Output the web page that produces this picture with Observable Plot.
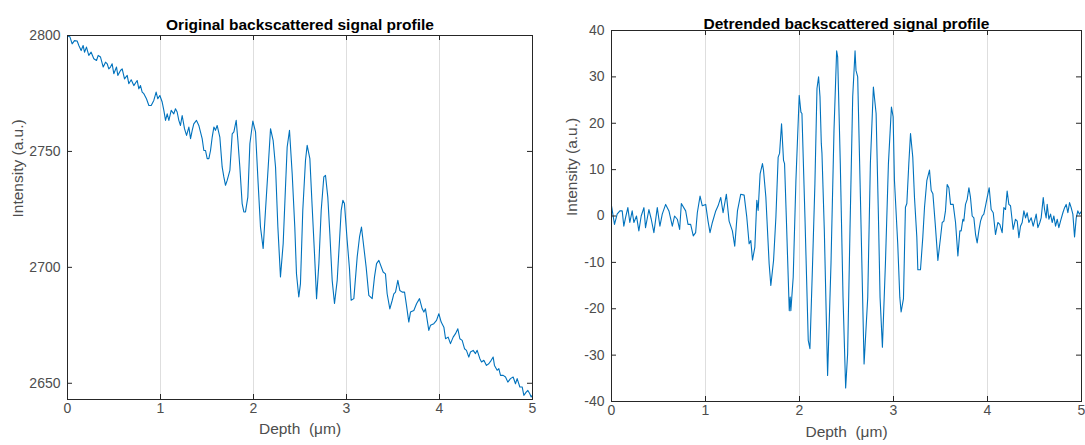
<!DOCTYPE html>
<html><head><meta charset="utf-8">
<script src="https://cdn.jsdelivr.net/npm/d3@7"></script>
<script src="https://cdn.jsdelivr.net/npm/@observablehq/plot@0.6"></script>
<style>
body{margin:0;background:#fff;}
#wrap{position:relative;width:1085px;height:445px;overflow:hidden;background:#fff;}
#left,#right{position:absolute;top:0;}
#left{left:0;} #right{left:540px;}
</style></head><body><div id="wrap"><div id="left"></div><div id="right"></div></div>
<script>
// ---- Data: original backscattered signal profile ----
const depthOrig = [
 0, 0.025, 0.050, 0.075, 0.104, 0.122, 0.147, 0.168, 0.183, 0.204,
 0.229, 0.254, 0.283, 0.312, 0.330, 0.355, 0.384, 0.409, 0.427, 0.444,
 0.462, 0.480, 0.498, 0.527, 0.541, 0.570, 0.588, 0.613, 0.642, 0.659,
 0.685, 0.713, 0.749, 0.767, 0.785, 0.803, 0.821, 0.849, 0.875, 0.900,
 0.928, 0.953, 0.971, 0.993, 1.018, 1.036, 1.054, 1.072, 1.090, 1.115,
 1.143, 1.161, 1.179, 1.197, 1.215, 1.233, 1.258, 1.280, 1.305, 1.323,
 1.341, 1.358, 1.387, 1.412, 1.448, 1.466, 1.484, 1.502, 1.520, 1.538,
 1.556, 1.574, 1.591, 1.609, 1.638, 1.663, 1.681, 1.699, 1.717, 1.746,
 1.771, 1.789, 1.814, 1.832, 1.853, 1.878, 1.896, 1.914, 1.939, 1.961,
 1.993, 2.022, 2.050, 2.075, 2.104, 2.129, 2.158, 2.183, 2.211, 2.237,
 2.262, 2.290, 2.319, 2.344, 2.362, 2.387, 2.416, 2.444, 2.462, 2.487,
 2.505, 2.530, 2.559, 2.577, 2.606, 2.631, 2.656, 2.678, 2.703, 2.728,
 2.756, 2.774, 2.799, 2.821, 2.846, 2.871, 2.900, 2.925, 2.943, 2.961,
 2.978, 3.007, 3.032, 3.050, 3.079, 3.115, 3.140, 3.161, 3.186, 3.211,
 3.240, 3.276, 3.301, 3.323, 3.348, 3.394, 3.419, 3.437, 3.466, 3.491,
 3.509, 3.527, 3.552, 3.574, 3.599, 3.624, 3.645, 3.670, 3.688, 3.724,
 3.753, 3.785, 3.814, 3.832, 3.849, 3.885, 3.903, 3.939, 3.968, 3.993,
 4.018, 4.047, 4.065, 4.093, 4.118, 4.147, 4.172, 4.197, 4.219, 4.244,
 4.269, 4.290, 4.315, 4.333, 4.362, 4.387, 4.405, 4.434, 4.452, 4.477,
 4.505, 4.530, 4.556, 4.577, 4.591, 4.620, 4.638, 4.656, 4.685, 4.710,
 4.735, 4.763, 4.792, 4.817, 4.835, 4.864, 4.889, 4.907, 4.932, 4.950,
 4.971, 4.986, 5.000
];
const intensityOrig = [
 2799.8, 2799.5, 2796.4, 2797.8, 2797.6, 2795.7, 2793.5, 2795.7, 2792.8, 2795.0,
 2791.4, 2792.8, 2790.0, 2789.2, 2791.4, 2790.7, 2786.4, 2788.5, 2787.8, 2785.6,
 2786.4, 2787.8, 2783.5, 2786.4, 2782.8, 2784.9, 2785.6, 2781.3, 2782.8, 2779.2,
 2780.9, 2778.4, 2780.6, 2777.0, 2778.4, 2775.6, 2774.9, 2772.7, 2769.8, 2769.8,
 2772.0, 2775.6, 2772.7, 2774.1, 2771.3, 2767.7, 2763.4, 2766.2, 2763.4, 2767.7,
 2766.2, 2768.4, 2767.0, 2763.4, 2761.2, 2765.5, 2759.8, 2756.9, 2760.5, 2755.5,
 2759.1, 2761.9, 2763.4, 2761.2, 2755.5, 2750.4, 2750.4, 2746.9, 2746.9, 2750.4,
 2756.2, 2760.5, 2759.1, 2761.2, 2756.2, 2743.3, 2739.0, 2735.4, 2737.5, 2741.8,
 2757.6, 2758.4, 2763.4, 2754.8, 2743.3, 2727.5, 2723.9, 2723.9, 2730.3, 2753.3,
 2763.1, 2758.4, 2736.1, 2717.4, 2708.1, 2724.6, 2743.3, 2759.8, 2754.8, 2743.3,
 2717.4, 2695.9, 2710.2, 2734.6, 2751.9, 2759.1, 2740.4, 2717.4, 2697.3, 2687.2,
 2693.0, 2724.6, 2746.1, 2752.6, 2746.9, 2726.0, 2705.9, 2686.5, 2701.6, 2724.6,
 2739.0, 2739.7, 2730.3, 2714.5, 2694.4, 2684.4, 2694.4, 2711.7, 2724.6, 2728.9,
 2727.5, 2711.7, 2699.4, 2685.8, 2686.5, 2704.5, 2713.1, 2717.4, 2708.8, 2700.2,
 2687.9, 2686.5, 2695.9, 2701.6, 2703.0, 2698.0, 2697.2, 2688.6, 2682.1, 2685.7,
 2688.6, 2689.3, 2694.4, 2690.0, 2689.3, 2689.3, 2683.6, 2676.4, 2680.7, 2681.4,
 2684.3, 2686.5, 2682.1, 2680.7, 2682.1, 2672.8, 2675.0, 2675.7, 2677.1, 2680.0,
 2676.4, 2674.2, 2669.2, 2669.9, 2667.1, 2669.9, 2671.4, 2673.5, 2669.2, 2668.5,
 2664.9, 2664.2, 2661.3, 2663.5, 2664.2, 2662.8, 2664.2, 2660.6, 2659.2, 2659.9,
 2657.7, 2658.4, 2659.9, 2661.3, 2657.7, 2655.6, 2656.3, 2653.4, 2653.4, 2652.7,
 2650.5, 2652.0, 2652.7, 2649.8, 2652.0, 2648.4, 2648.4, 2644.8, 2646.2, 2646.9,
 2645.5, 2644.1, 2645.0
];

// ---- Data: detrended backscattered signal profile ----
const depthDet = [
 0, 0.032, 0.060, 0.089, 0.114, 0.131, 0.149, 0.174, 0.195, 0.220,
 0.238, 0.266, 0.291, 0.316, 0.345, 0.362, 0.398, 0.423, 0.451, 0.487,
 0.515, 0.540, 0.576, 0.611, 0.647, 0.671, 0.700, 0.725, 0.743, 0.789,
 0.814, 0.842, 0.870, 0.895, 0.913, 0.942, 0.966, 1.002, 1.027, 1.048,
 1.073, 1.109, 1.134, 1.162, 1.187, 1.222, 1.251, 1.286, 1.311, 1.340,
 1.375, 1.411, 1.439, 1.464, 1.482, 1.500, 1.525, 1.546, 1.560, 1.581,
 1.606, 1.617, 1.642, 1.677, 1.695, 1.724, 1.749, 1.773, 1.788, 1.809,
 1.830, 1.841, 1.862, 1.891, 1.901, 1.908, 1.933, 1.962, 1.997, 2.015,
 2.026, 2.058, 2.093, 2.111, 2.139, 2.164, 2.186, 2.203, 2.218, 2.232,
 2.239, 2.264, 2.299, 2.335, 2.367, 2.395, 2.406, 2.434, 2.463, 2.491,
 2.512, 2.537, 2.566, 2.591, 2.601, 2.619, 2.648, 2.687, 2.726, 2.754,
 2.786, 2.815, 2.839, 2.857, 2.882, 2.914, 2.946, 2.978, 2.996, 3.010,
 3.045, 3.067, 3.081, 3.106, 3.127, 3.142, 3.163, 3.181, 3.205, 3.223,
 3.248, 3.259, 3.287, 3.312, 3.330, 3.355, 3.383, 3.401, 3.419, 3.444,
 3.472, 3.500, 3.518, 3.536, 3.553, 3.571, 3.589, 3.607, 3.635, 3.660,
 3.685, 3.706, 3.720, 3.738, 3.748, 3.766, 3.784, 3.802, 3.819, 3.837,
 3.855, 3.873, 3.890, 3.908, 3.926, 3.944, 3.961, 3.979, 3.997, 4.018,
 4.039, 4.061, 4.085, 4.110, 4.131, 4.156, 4.174, 4.192, 4.209, 4.227,
 4.245, 4.273, 4.298, 4.316, 4.334, 4.351, 4.369, 4.387, 4.405, 4.422,
 4.440, 4.465, 4.486, 4.500, 4.518, 4.536, 4.557, 4.571, 4.593, 4.607,
 4.624, 4.635, 4.653, 4.671, 4.688, 4.706, 4.724, 4.742, 4.759, 4.777,
 4.802, 4.820, 4.837, 4.855, 4.873, 4.890, 4.908, 4.926, 4.944, 4.961,
 4.979, 5.000
];
const intensityDet = [
 2.2, -1.8, 0.4, 1.1, 1.1, -2.2, -0.4, 1.8, -1.4, 1.1,
 -1.4, 0.0, -3.2, 0.0, 1.8, -2.5, 1.4, -0.7, -3.6, 1.8,
 -2.2, 0.4, 2.5, 1.1, -2.2, 0.0, -0.7, -2.9, 2.7, 1.1,
 -1.8, -1.8, -4.3, -3.6, 0.7, 4.3, 2.2, 2.5, -1.1, -3.6,
 -1.4, 1.1, 2.2, 4.0, 0.7, 4.7, -1.1, -3.2, -6.5, 1.1,
 4.7, 4.5, -0.2, -6.0, -5.3, -9.5, -6.7, 3.4, 1.2, 9.1,
 11.3, 9.9, 4.1, -10.3, -15.0, -9.6, -0.2, 12.7, 13.5, 19.9,
 12.0, 11.3, -1.7, -20.4, -17.5, -20.4, -13.2, 7.7, 26.0, 22.4,
 22.1, -0.2, -26.8, -28.6, -10.3, 7.0, 27.5, 30.0, 25.7, 15.6,
 13.5, -3.1, -34.4, -10.3, 18.5, 35.6, 34.3, 11.3, -17.5, -37.1,
 -29.7, -3.1, 25.7, 35.6, 31.4, 30.0, 4.1, -31.9, -17.5, 11.3,
 27.8, 22.1, 0.5, -17.5, -28.3, -10.3, 11.3, 23.5, 21.4, 7.7,
 -6.0, -17.5, -20.7, -17.8, 1.9, 2.7, 11.3, 17.8, 12.7, 4.1,
 -4.5, -11.6, -11.6, -4.5, 1.9, 7.7, 9.9, 5.5, 4.8, -1.7,
 -9.6, -4.7, -1.4, -1.1, 1.1, 6.8, 6.1, 2.5, 2.5, -1.4,
 -8.6, -3.2, -3.2, -0.7, -1.1, 2.5, 3.6, 6.1, 4.0, 0.0,
 -0.4, -4.0, -5.8, -3.2, -1.1, 0.0, 0.4, 2.2, 4.0, 6.1,
 1.4, 0.7, -4.0, -1.4, -1.8, -3.6, 1.8, 1.4, 5.4, 2.5,
 2.2, -2.9, -0.7, -1.1, -4.7, -2.2, -1.4, 1.1, -0.4, 0.7,
 -1.4, -0.4, -2.2, -1.1, 0.4, -2.5, -1.4, -0.4, 4.0, 1.4,
 -0.4, 2.5, -0.7, 0.4, -1.4, 0.0, -2.2, -0.7, -2.5, -1.1,
 0.7, 1.8, 2.5, 0.7, 2.9, 1.8, 0.4, -4.5, -0.4, 1.1,
 0.4, 1.0
];

// ---- Ticks & labels ----
const depthTicks = [0, 1, 2, 3, 4, 5];
const origTicks = [2650, 2700, 2750, 2800];
const detTicks = [-40, -30, -20, -10, 0, 10, 20, 30, 40];
const origTitle = "Original backscattered signal profile";
const detTitle = "Detrended backscattered signal profile";
const xLabel = "Depth\u00a0 (\u03bcm)";
const yLabel = "Intensity (a.u.)";

const FONT = "Helvetica, Arial, 'Liberation Sans', sans-serif";
const LINE = "#0072BD";
const AXIS = "#262626";
const TXT = "#4d4d4d";

function panel(o) {
  const W = o.width - o.ml - o.mr, H = o.height - o.mt - o.mb;
  const rows = o.xs.map((x, i) => ({x, y: o.ys[i]}));
  return Plot.plot({
    width: o.width, height: o.height,
    marginLeft: o.ml, marginRight: o.mr, marginTop: o.mt, marginBottom: o.mb,
    style: {fontFamily: FONT, background: "#fff"},
    x: {domain: [0, 5], axis: null},
    y: {domain: o.yDomain, axis: null},
    marks: [
      Plot.ruleX(depthTicks, {x: d => d, stroke: "#dedede", strokeWidth: 1}),
      Plot.line(rows, {x: "x", y: "y", stroke: LINE, strokeWidth: 1.1, clip: true}),
      Plot.tickX(depthTicks, {x: d => d, insetTop: H - 5, stroke: AXIS}),
      Plot.tickX(depthTicks, {x: d => d, insetBottom: H - 5, stroke: AXIS}),
      Plot.tickY(o.yTicks, {y: d => d, insetRight: W - 5, stroke: AXIS}),
      Plot.tickY(o.yTicks, {y: d => d, insetLeft: W - 5, stroke: AXIS}),
      Plot.frame({stroke: AXIS, strokeWidth: 1}),
      // tick labels
      Plot.text(depthTicks, {x: d => d, text: d => String(d), frameAnchor: "bottom", dy: 13, fontSize: 14, fontFamily: FONT, fill: TXT}),
      Plot.text(o.yTicks, {y: d => d, text: d => String(d), frameAnchor: "left", dx: -7, textAnchor: "end", fontSize: 14, fontFamily: FONT, fill: TXT}),
      // title & axis labels
      Plot.text([o.title], {text: d => d, frameAnchor: "top", dy: o.titleDy, fontWeight: "bold", fontSize: 15.5, fontFamily: FONT, fill: "#000"}),
      Plot.text([xLabel], {text: d => d, frameAnchor: "bottom", dy: o.xLabelDy, fontSize: 15.5, fontFamily: FONT, fill: TXT}),
      Plot.text([yLabel], {text: d => d, frameAnchor: "left", dx: o.yLabelDx, rotate: -90, fontSize: 15.5, fontFamily: FONT, fill: TXT})
    ]
  });
}

document.getElementById("left").append(panel({
  xs: depthOrig, ys: intensityOrig, width: 540, height: 445,
  ml: 67, mr: 8, mt: 35, mb: 46,
  yDomain: [2643, 2800], yTicks: origTicks,
  title: origTitle, titleDy: -17, yLabelDx: -49, xLabelDy: 34
}));
document.getElementById("right").append(panel({
  xs: depthDet, ys: intensityDet, width: 545, height: 445,
  ml: 71, mr: 4, mt: 30, mb: 44,
  yDomain: [-40, 40], yTicks: detTicks,
  title: detTitle, titleDy: -13, yLabelDx: -39, xLabelDy: 35
}));
</script>
</body></html>
